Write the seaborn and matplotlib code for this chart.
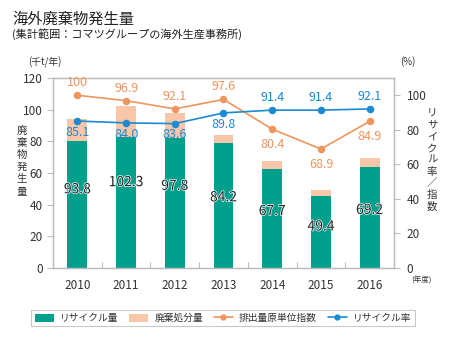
import numpy as np
import pandas as pd
import matplotlib
matplotlib.use("Agg")
import matplotlib.pyplot as plt
import matplotlib.patheffects as pe
from matplotlib.patches import Patch
from matplotlib.lines import Line2D
import seaborn as sns

years = ["2010", "2011", "2012", "2013", "2014", "2015", "2016"]
total = [93.8, 102.3, 97.8, 84.2, 67.7, 49.4, 69.2]
recycled = [80.0, 83.0, 82.3, 78.8, 62.3, 45.3, 63.8]
index_vals = [100, 96.9, 92.1, 97.6, 80.4, 68.9, 84.9]
index_labels = ["100", "96.9", "92.1", "97.6", "80.4", "68.9", "84.9"]
rate = [85.1, 84.0, 83.6, 89.8, 91.4, 91.4, 92.1]
rate_labels = ["85.1", "84.0", "83.6", "89.8", "91.4", "91.4", "92.1"]

TEAL = "#00A08C"
PEACH = "#F8C6A9"
ORANGE = "#F0955E"
BLUE = "#1A8AD2"
GRAY = "#BBBBBB"
TXT = "#333333"

sns.set_theme(style="white")
FAM = ["Noto Sans CJK JP", "DejaVu Sans"]
plt.rcParams["font.family"] = FAM

df = pd.DataFrame({"year": years, "total": total, "recycled": recycled,
                   "index": index_vals, "rate": rate})

fig = plt.figure(figsize=(4.5, 3.5), dpi=100)
ax = fig.add_axes([53/450, 1-268/350, (394-53)/450, (268-78)/350])

sns.barplot(data=df, x="year", y="total", color=PEACH, width=0.41, ax=ax,
            saturation=1, linewidth=0)
sns.barplot(data=df, x="year", y="recycled", color=TEAL, width=0.41, ax=ax,
            saturation=1, linewidth=0)
ax.set_ylim(0, 120)
ax.set_xlim(-0.5, 6.5)
ax.set_yticks([0, 20, 40, 60, 80, 100, 120])
ax.set_xlabel("")
ax.set_ylabel("")

for i, t in enumerate(total):
    ax.text(i, t * 0.53, f"{t}", ha="center", va="center", fontsize=10,
            color="#222222",
            path_effects=[pe.withStroke(linewidth=1.0, foreground="white")])

ax2 = ax.twinx()
sns.pointplot(data=df, x="year", y="index", color=ORANGE, ax=ax2,
              markers="o", markersize=4.5, linewidth=1.2)
sns.pointplot(data=df, x="year", y="rate", color=BLUE, ax=ax2,
              markers="o", markersize=4.5, linewidth=1.2)
ax2.set_ylim(0, 110)
ax2.set_xlim(-0.5, 6.5)
ax2.set_yticks([0, 20, 40, 60, 80, 100])
ax2.set_ylabel("")
ax2.set_xlabel("")

for i, (v, lab) in enumerate(zip(index_vals, index_labels)):
    above = i <= 3
    ax2.annotate(lab, (i, v), xytext=(0, 9 if above else -11), textcoords="offset points",
                 ha="center", va="center", fontsize=9, color=ORANGE)
for i, (v, lab) in enumerate(zip(rate, rate_labels)):
    above = i >= 4
    ax2.annotate(lab, (i, v), xytext=(0, 9 if above else -8), textcoords="offset points",
                 ha="center", va="center", fontsize=9, color=BLUE)

for a in (ax, ax2):
    for s in a.spines.values():
        s.set_visible(True)
        s.set_color(GRAY)
        s.set_linewidth(0.9)
    a.tick_params(colors=GRAY, labelcolor=TXT, labelsize=8.5, length=4, width=0.8)

ax.tick_params(axis="y", left=True, direction="out")
ax.tick_params(axis="x", bottom=False, pad=4)
ax.set_xticks(np.arange(0.5, 6, 1), minor=True)
ax.tick_params(axis="x", which="minor", bottom=True, direction="in", length=4,
               color=GRAY, width=0.8)
ax2.tick_params(axis="y", right=True, direction="out", pad=5)

# annotations / titles
fig.text(12/450, 1-19/350, "海外廃棄物発生量", fontsize=11, color="#222222",
         ha="left", va="center", family=FAM)
fig.text(12/450, 1-34/350, "(集計範囲：コマツグループの海外生産事務所)", fontsize=8,
         color="#222222", ha="left", va="center", family=FAM)
fig.text(45/450, 1-62/350, "(千t/年)", fontsize=7, color=TXT, ha="center", va="center",
         family=FAM)
fig.text(408/450, 1-62/350, "(%)", fontsize=7, color=TXT, ha="center", va="center",
         family=FAM)
fig.text(422/450, 1-281/350, "(年度)", fontsize=5.5, color=TXT, ha="center",
         va="center", family=FAM)
fig.text(22/450, 1-161/350, "\n".join("廃棄物発生量"), fontsize=7.5, color=TXT,
         ha="center", va="center", linespacing=1.28, family=FAM)
fig.text(432/450, 1-160/350, "\n".join("リサイクル率／指数"),
         fontsize=7.5, color=TXT, ha="center", va="center", linespacing=1.22,
         family=FAM)

handles = [
    Patch(facecolor=TEAL, edgecolor="none", label="リサイクル量"),
    Patch(facecolor=PEACH, edgecolor="none", label="廃棄処分量"),
    Line2D([0], [0], color=ORANGE, marker="o", markersize=3.5, lw=1.2,
           label="排出量原単位指数"),
    Line2D([0], [0], color=BLUE, marker="o", markersize=3.5, lw=1.2,
           label="リサイクル率"),
]
leg = fig.legend(handles=handles, loc="center", bbox_to_anchor=(223/450, 1-318/350),
                 ncol=4, frameon=True, fancybox=False, edgecolor=GRAY,
                 handlelength=2.0, handleheight=0.9, columnspacing=1.1,
                 handletextpad=0.6, borderpad=0.35, prop={"family": FAM, "size": 7})
leg.get_frame().set_linewidth(0.8)
for t in leg.get_texts():
    t.set_color(TXT)

fig.savefig("out.png", dpi=100)
